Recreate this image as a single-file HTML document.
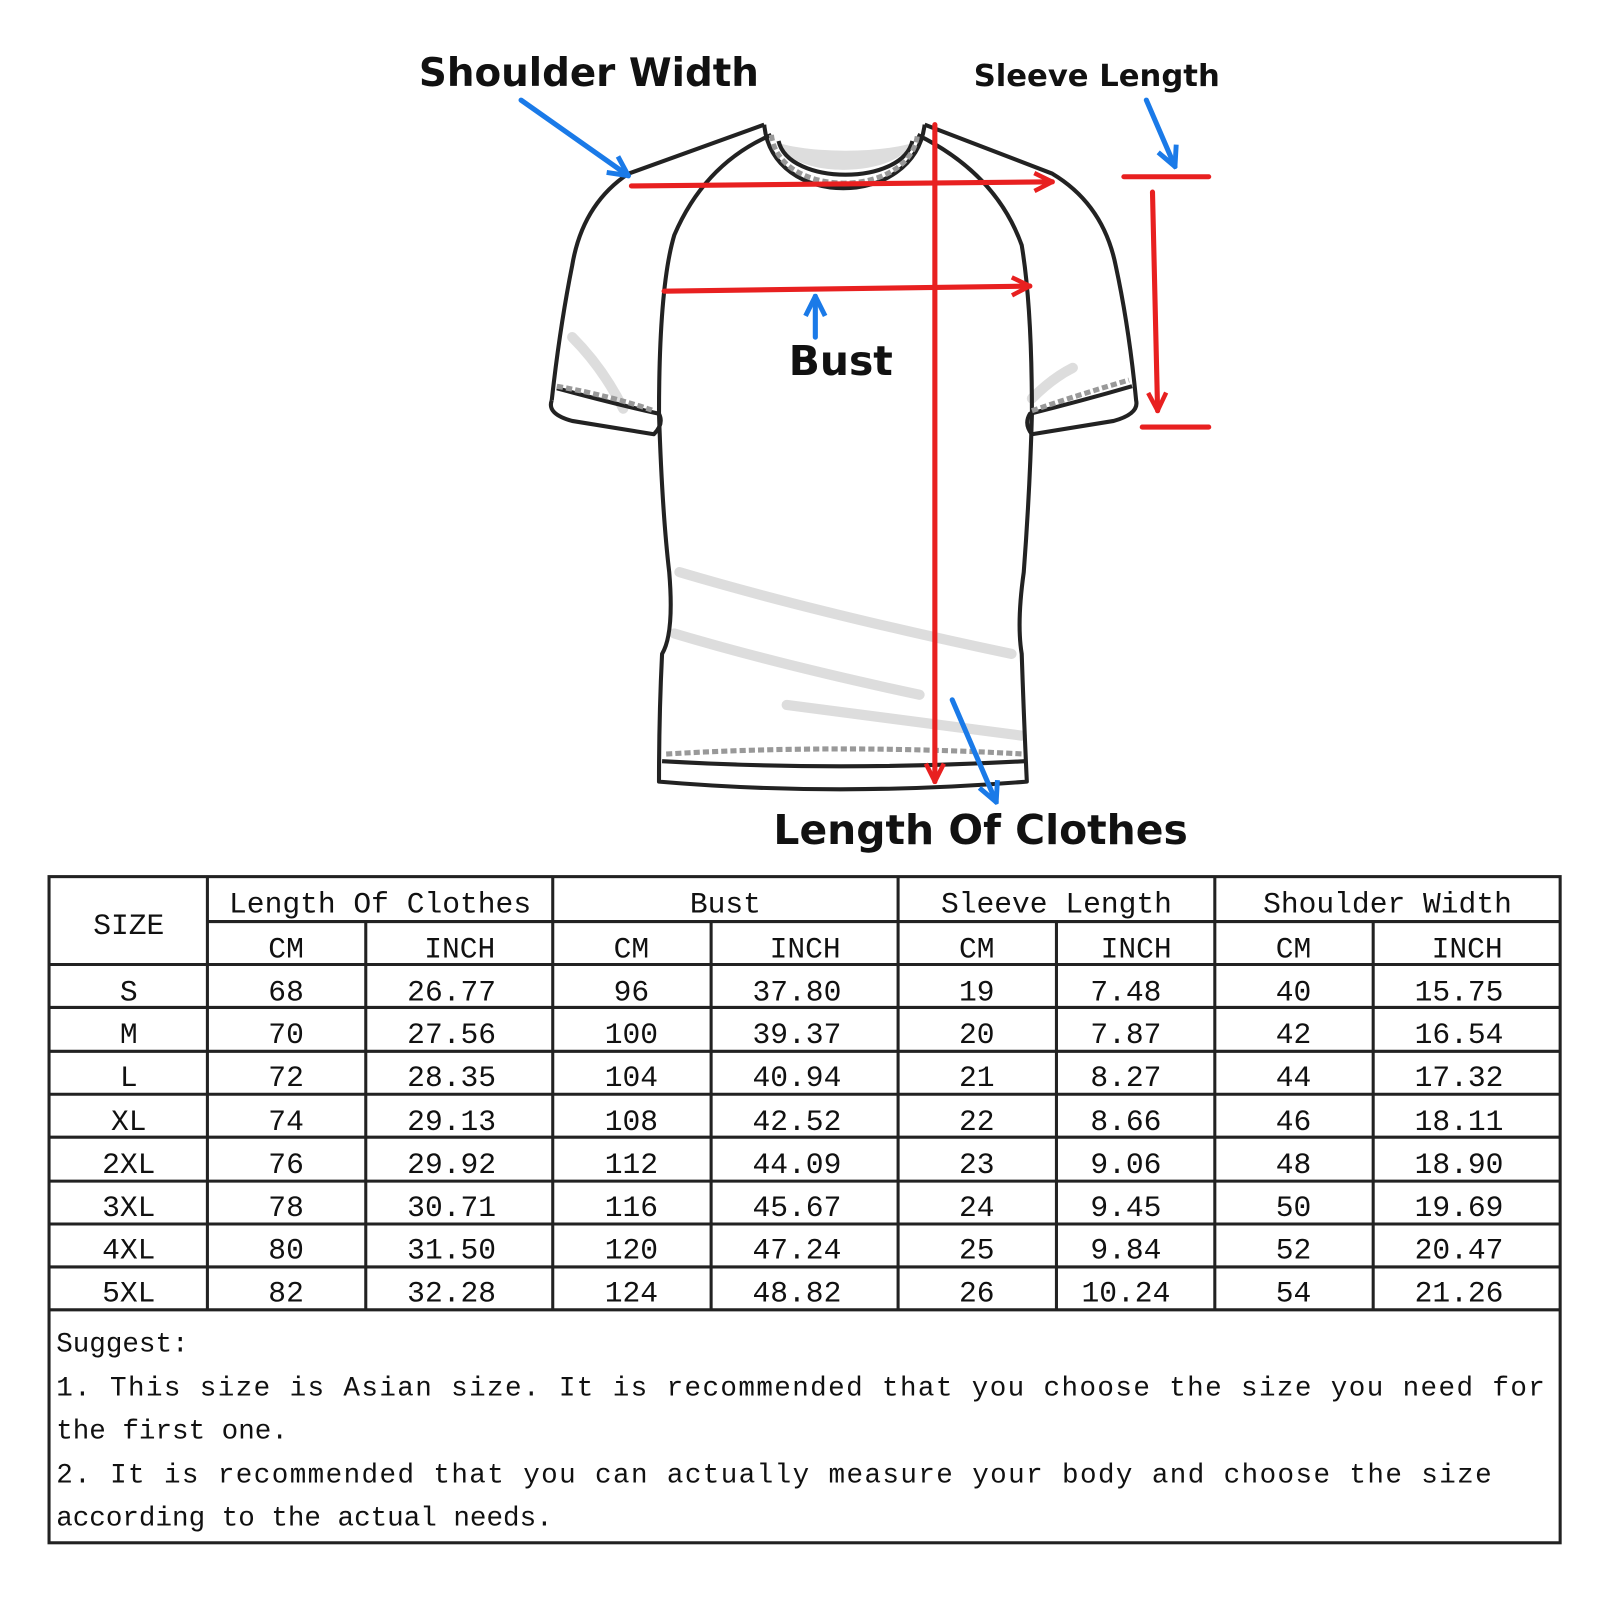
<!DOCTYPE html>
<html><head><meta charset="utf-8"><style>
html,body{margin:0;padding:0;background:#fff;width:1600px;height:1600px;overflow:hidden}
svg{display:block}
.lbl{font-family:"DejaVu Sans","Liberation Sans",sans-serif;font-weight:bold;fill:#111}
.t{font-family:"Liberation Mono",monospace;font-size:29px;fill:#111;text-anchor:middle}
.n{font-family:"Liberation Mono",monospace;font-size:27px;fill:#111}
</style></head><body>
<svg width="1600" height="1600" viewBox="0 0 1566 1566" xmlns="http://www.w3.org/2000/svg">
<defs>
<marker id="ra" viewBox="0 0 20 20" refX="18" refY="10" markerWidth="22" markerHeight="22" markerUnits="userSpaceOnUse" orient="auto"><path d="M2 2 L18 10 L2 18" fill="none" stroke="#e82020" stroke-width="4"/></marker>
<marker id="ba" viewBox="0 0 20 20" refX="18" refY="10" markerWidth="24" markerHeight="24" markerUnits="userSpaceOnUse" orient="auto"><path d="M2 2 L18 10 L2 18" fill="none" stroke="#1a7ae8" stroke-width="4"/></marker>
</defs>
<g fill="none" stroke="#ddd" stroke-width="10" stroke-linecap="round">
<path d="M665 560 Q800 600 990 640"/><path d="M660 620 Q760 650 900 680"/><path d="M770 690 Q850 700 1000 720"/>
<path d="M560 330 Q590 360 610 400"/><path d="M1010 390 Q1030 370 1050 360"/>
</g>
<path d="M762 140 C775 175 875 175 893 140 C860 150 795 150 762 140Z" fill="#ddd"/>
<g fill="none" stroke="#222" stroke-width="4" stroke-linejoin="round">
<path d="M748 122 L615 170 Q570 200 560 260 Q548 320 540 392"/>
<path d="M540 392 Q535 405 560 412 L640 425 Q650 415 645 405 Q600 395 545 380"/>
<path d="M645 405 Q648 500 655 560 Q660 620 648 640 Q645 700 645 765 Q820 780 1005 765 Q1002 700 1000 640 Q995 610 1002 560 Q1008 480 1010 405"/>
<path d="M905 122 L1030 170 Q1080 200 1092 260 Q1105 320 1112 392 Q1115 405 1090 412 L1010 425 Q1002 415 1008 405 Q1060 392 1108 378"/>
<path d="M755 132 Q690 160 660 230 Q645 280 645 405"/>
<path d="M898 132 Q975 170 1000 240 Q1010 300 1010 405"/>
<path d="M748 122 C755 205 895 205 905 122"/>
<path d="M762 138 C772 182 883 182 893 138"/>
<path d="M648 745 Q820 755 1003 745"/>
</g>
<g stroke="#999" stroke-width="5" stroke-dasharray="6 3" fill="none">
<path d="M652 738 Q820 728 1002 738"/><path d="M545 378 Q600 388 640 402"/><path d="M1010 402 Q1060 385 1105 372"/>
<path d="M755 132 C762 195 890 195 898 132"/>
</g>
<g stroke="#e82020" stroke-width="5" fill="none" stroke-linecap="round">
<line x1="618" y1="182" x2="1030" y2="178" marker-end="url(#ra)"/>
<line x1="650" y1="285" x2="1008" y2="280" marker-end="url(#ra)"/>
<line x1="915" y1="122" x2="915" y2="765" marker-end="url(#ra)"/>
<line x1="1100" y1="173" x2="1183" y2="173"/>
<line x1="1118" y1="418" x2="1183" y2="418"/>
<line x1="1128" y1="188" x2="1133" y2="402" marker-end="url(#ra)"/>
</g>
<g stroke="#1a7ae8" stroke-width="5" fill="none" stroke-linecap="round">
<line x1="510" y1="98" x2="615" y2="172" marker-end="url(#ba)"/>
<line x1="1122" y1="98" x2="1150" y2="163" marker-end="url(#ba)"/>
<line x1="798" y1="330" x2="798" y2="290" marker-end="url(#ba)"/>
<line x1="932" y1="685" x2="975" y2="785" marker-end="url(#ba)"/>
</g>
<text class="lbl" x="410" y="84" font-size="38">Shoulder Width</text>
<text class="lbl" x="953" y="84" font-size="30">Sleeve Length</text>
<text class="lbl" x="772" y="367" font-size="40">Bust</text>
<text class="lbl" x="757" y="826" font-size="40">Length Of Clothes</text>
<g stroke="#222" stroke-width="3" fill="none">
<rect x="48" y="858" width="1479" height="652"/>
<line x1="203" y1="902" x2="1527" y2="902"/>
<line x1="48" y1="944" x2="1527" y2="944"/>
<line x1="48" y1="986" x2="1527" y2="986"/>
<line x1="48" y1="1029" x2="1527" y2="1029"/>
<line x1="48" y1="1071" x2="1527" y2="1071"/>
<line x1="48" y1="1113" x2="1527" y2="1113"/>
<line x1="48" y1="1156" x2="1527" y2="1156"/>
<line x1="48" y1="1198" x2="1527" y2="1198"/>
<line x1="48" y1="1240" x2="1527" y2="1240"/>
<line x1="48" y1="1282" x2="1527" y2="1282"/>
<line x1="203" y1="858" x2="203" y2="1282"/>
<line x1="541" y1="858" x2="541" y2="1282"/>
<line x1="879" y1="858" x2="879" y2="1282"/>
<line x1="1189" y1="858" x2="1189" y2="1282"/>
<line x1="358" y1="902" x2="358" y2="1282"/>
<line x1="696" y1="902" x2="696" y2="1282"/>
<line x1="1034" y1="902" x2="1034" y2="1282"/>
<line x1="1344" y1="902" x2="1344" y2="1282"/>
</g>
<text class="t" x="126" y="914">SIZE</text>
<text class="t" x="372" y="893">Length Of Clothes</text>
<text class="t" x="710" y="893">Bust</text>
<text class="t" x="1034" y="893">Sleeve Length</text>
<text class="t" x="1358" y="893">Shoulder Width</text>
<text class="t" x="280" y="937">CM</text><text class="t" x="450" y="937">INCH</text>
<text class="t" x="618" y="937">CM</text><text class="t" x="788" y="937">INCH</text>
<text class="t" x="956" y="937">CM</text><text class="t" x="1112" y="937">INCH</text>
<text class="t" x="1266" y="937">CM</text><text class="t" x="1436" y="937">INCH</text>
<text class="t" y="979"><tspan x="126">S</tspan><tspan x="280">68</tspan><tspan x="442">26.77</tspan><tspan x="618">96</tspan><tspan x="780">37.80</tspan><tspan x="956">19</tspan><tspan x="1102">7.48</tspan><tspan x="1266">40</tspan><tspan x="1428">15.75</tspan></text>
<text class="t" y="1021"><tspan x="126">M</tspan><tspan x="280">70</tspan><tspan x="442">27.56</tspan><tspan x="618">100</tspan><tspan x="780">39.37</tspan><tspan x="956">20</tspan><tspan x="1102">7.87</tspan><tspan x="1266">42</tspan><tspan x="1428">16.54</tspan></text>
<text class="t" y="1063"><tspan x="126">L</tspan><tspan x="280">72</tspan><tspan x="442">28.35</tspan><tspan x="618">104</tspan><tspan x="780">40.94</tspan><tspan x="956">21</tspan><tspan x="1102">8.27</tspan><tspan x="1266">44</tspan><tspan x="1428">17.32</tspan></text>
<text class="t" y="1106"><tspan x="126">XL</tspan><tspan x="280">74</tspan><tspan x="442">29.13</tspan><tspan x="618">108</tspan><tspan x="780">42.52</tspan><tspan x="956">22</tspan><tspan x="1102">8.66</tspan><tspan x="1266">46</tspan><tspan x="1428">18.11</tspan></text>
<text class="t" y="1148"><tspan x="126">2XL</tspan><tspan x="280">76</tspan><tspan x="442">29.92</tspan><tspan x="618">112</tspan><tspan x="780">44.09</tspan><tspan x="956">23</tspan><tspan x="1102">9.06</tspan><tspan x="1266">48</tspan><tspan x="1428">18.90</tspan></text>
<text class="t" y="1190"><tspan x="126">3XL</tspan><tspan x="280">78</tspan><tspan x="442">30.71</tspan><tspan x="618">116</tspan><tspan x="780">45.67</tspan><tspan x="956">24</tspan><tspan x="1102">9.45</tspan><tspan x="1266">50</tspan><tspan x="1428">19.69</tspan></text>
<text class="t" y="1232"><tspan x="126">4XL</tspan><tspan x="280">80</tspan><tspan x="442">31.50</tspan><tspan x="618">120</tspan><tspan x="780">47.24</tspan><tspan x="956">25</tspan><tspan x="1102">9.84</tspan><tspan x="1266">52</tspan><tspan x="1428">20.47</tspan></text>
<text class="t" y="1274"><tspan x="126">5XL</tspan><tspan x="280">82</tspan><tspan x="442">32.28</tspan><tspan x="618">124</tspan><tspan x="780">48.82</tspan><tspan x="956">26</tspan><tspan x="1102">10.24</tspan><tspan x="1266">54</tspan><tspan x="1428">21.26</tspan></text>
<text class="n" x="55" y="1323">Suggest:</text>
<text class="n" x="55" y="1366" textLength="1457" lengthAdjust="spacing">1. This size is Asian size. It is recommended that you choose the size you need for</text>
<text class="n" x="55" y="1408">the first one.</text>
<text class="n" x="55" y="1451" textLength="1405" lengthAdjust="spacing">2. It is recommended that you can actually measure your body and choose the size</text>
<text class="n" x="55" y="1493">according to the actual needs.</text>
</svg>
</body></html>
